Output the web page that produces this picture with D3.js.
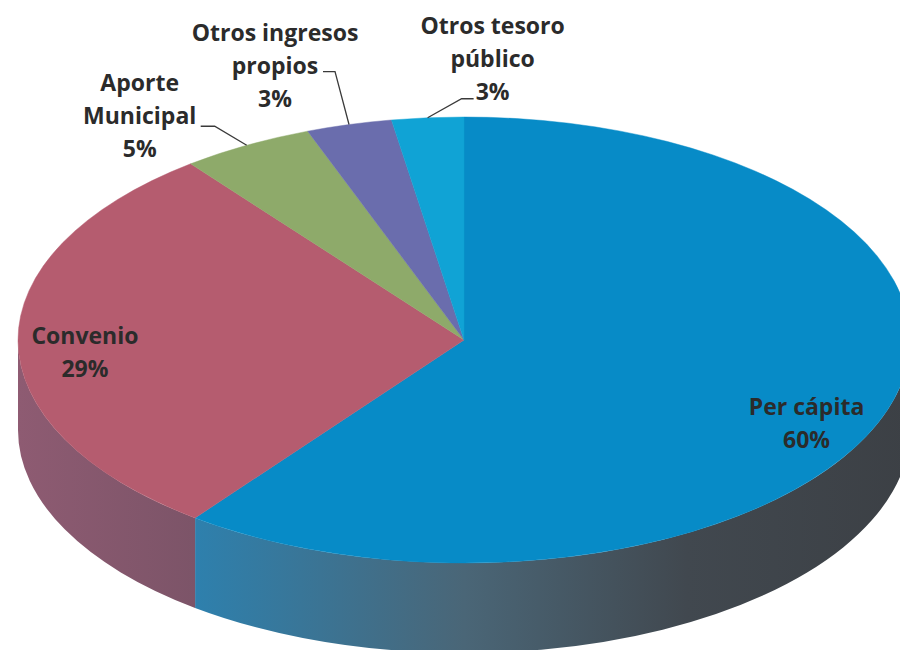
<!DOCTYPE html>
<html>
<head>
<meta charset="utf-8">
<script src="https://cdn.jsdelivr.net/npm/d3@7"></script>
<style>
  html, body { margin: 0; padding: 0; background: #ffffff; }
  svg { display: block; }
  text { font-family: "Open Sans", "Liberation Sans", sans-serif; font-weight: 700; }
</style>
</head>
<body>
<div id="chart"></div>
<script>
// ---- Data ----
const categories = ["Per cápita", "Convenio", "Aporte Municipal", "Otros ingresos propios", "Otros tesoro público"];
const values = [60.3, 29.2, 4.8, 3.1, 2.6];
const labelLines = [["Per cápita"], ["Convenio"], ["Aporte", "Municipal"], ["Otros ingresos", "propios"], ["Otros tesoro", "público"]];
const topColors = ["#078bc7", "#b55c6f", "#8eaa6a", "#6a6dad", "#10a3d5"];

// ---- Layout (kept apart from data) ----
const W = 900, H = 650;
const cx = 464, cy = 340, rx = 446, ry = 223, depth = 90;
const lineH = 33;
// label placement: f = fraction of radius for anchor on mid-angle; dx,dy = offset of first baseline;
// leader = [elbow, end] offsets relative to the rim point (outside labels only)
const labelLayout = [
  { f: 0.81, dx: 0, dy: 18 },
  { f: 0.85, dx: 0, dy: 3 },
  { f: 1, dx: -107, dy: -54, leader: [[-32, -19], [-46, -19]] },
  { f: 1, dx: -74, dy: -84, leader: [[-14, -53], [-26, -53]] },
  { f: 1, dx: 65, dy: -84, leader: [[34, -19], [46, -19]] }
];
const sideGradients = [
  [[0, "#2a86b8"], [0.2, "#2e80ad"], [0.5, "#4a6677"], [0.75, "#41484f"], [1, "#3c4045"]],
  [[0, "#8e5b72"], [0.2, "#7c5468"], [1, "#6e4a5c"]],
  [[0, "#6f8a50"], [1, "#5c7242"]],
  [[0, "#55578c"], [1, "#45476f"]],
  [[0, "#0d85b0"], [1, "#0a6a8c"]]
];

const svg = d3.select("#chart").append("svg").attr("width", W).attr("height", H);
const defs = svg.append("defs");

const pie = d3.pie().sort(null).value(d => d)(values);
const total = d3.sum(values);
const pct = d3.format(".0%");

// projection of a pie angle (0 = 12 o'clock, clockwise) onto the tilted ellipse
const px = (a, k = 1) => cx + rx * k * Math.sin(a);
const py = (a, k = 1, off = 0) => cy - ry * k * Math.cos(a) + off;

// gradients for side walls
sideGradients.forEach((stops, i) => {
  const g = defs.append("linearGradient")
    .attr("id", "side" + i)
    .attr("gradientUnits", "userSpaceOnUse")
    .attr("x1", cx - rx).attr("x2", cx + rx).attr("y1", 0).attr("y2", 0);
  stops.forEach(s => g.append("stop").attr("offset", s[0]).attr("stop-color", s[1]));
});

// ---- side walls (front half only: angles between PI/2 and 3PI/2) ----
const sides = svg.append("g");
pie.forEach((d, i) => {
  const a0 = Math.max(d.startAngle, Math.PI / 2);
  const a1 = Math.min(d.endAngle, 3 * Math.PI / 2);
  if (a1 <= a0) return;
  const p = d3.path();
  const path = `M${px(a0)},${py(a0)} A${rx},${ry} 0 0 1 ${px(a1)},${py(a1)} ` +
    `L${px(a1)},${py(a1, 1, depth)} A${rx},${ry} 0 0 0 ${px(a0)},${py(a0, 1, depth)} Z`;
  sides.append("path").attr("d", path).attr("fill", `url(#side${i})`);
});

// ---- top faces: circular arcs squashed vertically ----
const arc = d3.arc().innerRadius(0).outerRadius(rx);
svg.append("g")
  .attr("transform", `translate(${cx},${cy}) scale(1,${ry / rx})`)
  .selectAll("path").data(pie).join("path")
  .attr("d", arc)
  .attr("fill", (d, i) => topColors[i])
  .attr("stroke", (d, i) => topColors[i])
  .attr("stroke-width", 0.6);

// ---- labels ----
const labels = svg.append("g");
pie.forEach((d, i) => {
  const mid = (d.startAngle + d.endAngle) / 2;
  const L = labelLayout[i];
  const ax = px(mid, L.f), ay = py(mid, L.f);
  const tx = ax + L.dx, ty = ay + L.dy;
  const lines = labelLines[i].concat([pct(d.value / total)]);
  const t = labels.append("text")
    .attr("text-anchor", "middle")
    .attr("font-size", 23)
    .attr("fill", "#2b2b2b");
  lines.forEach((s, j) => {
    t.append("tspan").attr("x", tx).attr("y", ty + j * lineH).text(s);
  });
  if (L.leader) {
    const pts = [[ax, ay]].concat(L.leader.map(o => [ax + o[0], ay + o[1]]));
    labels.append("path")
      .attr("d", d3.line()(pts))
      .attr("fill", "none")
      .attr("stroke", "#3a3a3a")
      .attr("stroke-width", 1.3);
  }
});
</script>
</body>
</html>
